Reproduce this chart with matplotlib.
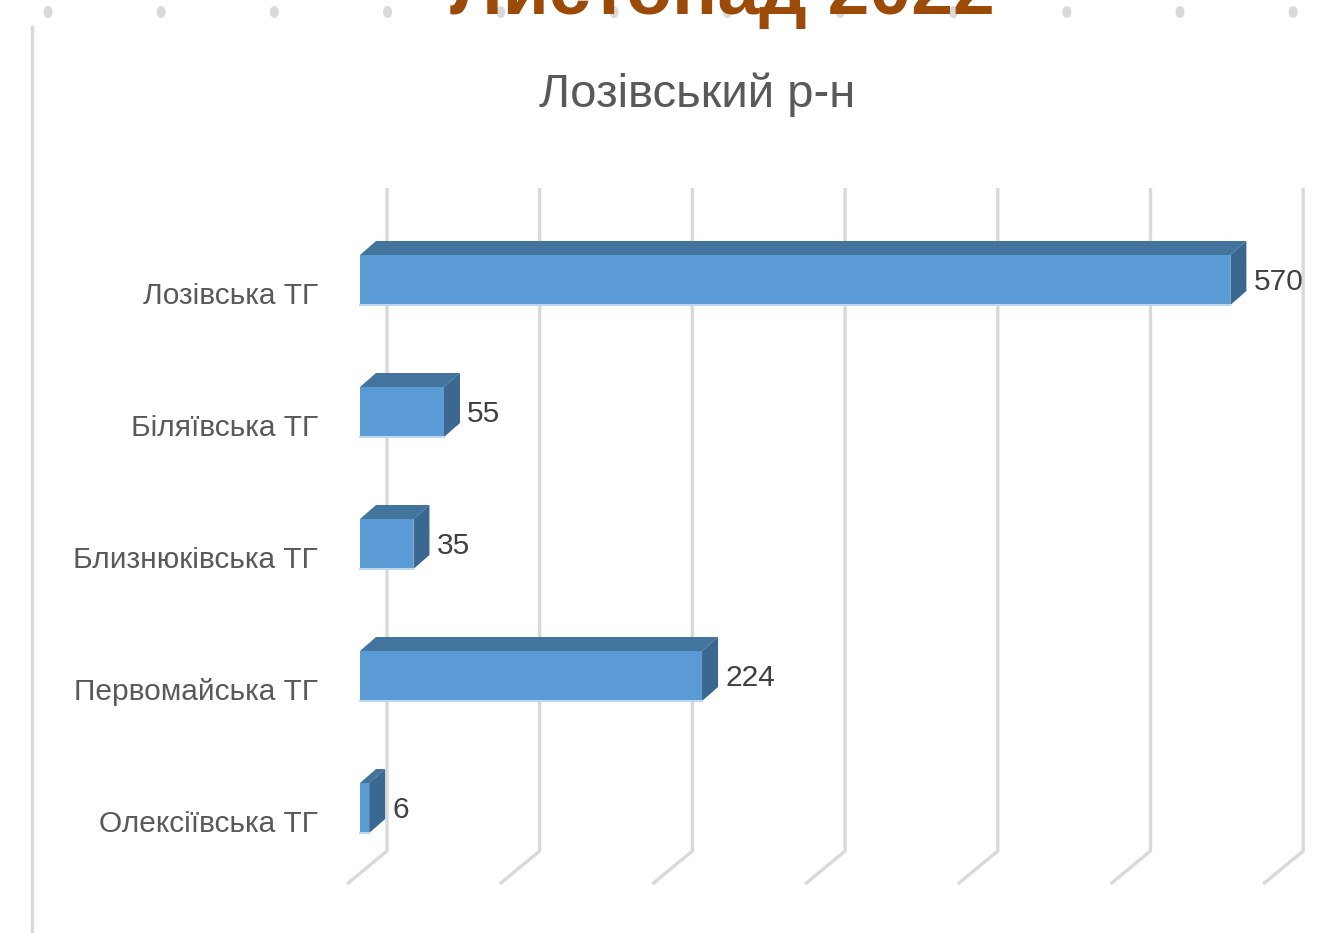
import matplotlib
matplotlib.use('Agg')
import matplotlib.pyplot as plt
from matplotlib.patches import Polygon, Rectangle, Ellipse
from matplotlib.lines import Line2D
import numpy as np

# ---- data ----
categories = ['Лозівська ТГ', 'Біляївська ТГ', 'Близнюківська ТГ', 'Первомайська ТГ', 'Олексіївська ТГ']
values = [570, 55, 35, 224, 6]
x_ticks = [0, 100, 200, 300, 400, 500, 600]
chart_title = 'Лозівський р-н'
page_title = 'Листопад 2022'

# ---- layout (pixels) ----
W, H, DPI = 1341, 933, 100
X0_PX = 360          # front plane value 0
KX = 1.527           # px per unit
ROW0_PX = 280        # center of first row (front plane)
ROW_PX = 132         # row spacing
BAR_H_PX = 50
DEPTH = (16, 14)     # bar depth offset (right, up)
BACK = (27, 22)      # back wall offset from bar front plane (right, up)
FLOOR = (-40, 33)    # floor slant from back wall (right, down)
GRID_TOP_PX = 188
GRID_BOT_PX = 851

FRONT = '#5B9BD5'
TOP = '#43749E'
SIDE = '#3A6890'
GRID = '#d9d9d9'
TXT = '#595959'

plt.rcParams['font.family'] = ['Liberation Sans', 'DejaVu Sans']

fig = plt.figure(figsize=(W / DPI, H / DPI), dpi=DPI)
ax = fig.add_axes([0, 0, 1, 1])
ax.set_axis_off()
ax.set_xlim(-X0_PX / KX, (W - X0_PX) / KX)
ax.set_ylim((H - ROW0_PX) / ROW_PX, -ROW0_PX / ROW_PX)


def dx(p):
    return p / KX


def dy(p):  # pixels downward -> data
    return p / ROW_PX


def ypx(p):  # absolute pixel row -> data
    return (p - ROW0_PX) / ROW_PX


# gridlines (back wall + floor slant)
bx = dx(BACK[0])
for v in x_ticks:
    xs = [v + bx, v + bx, v + bx + dx(FLOOR[0])]
    ys = [ypx(GRID_TOP_PX), ypx(GRID_BOT_PX), ypx(GRID_BOT_PX) + dy(FLOOR[1])]
    ax.add_line(Line2D(xs, ys, color=GRID, lw=2.4, solid_capstyle='butt', zorder=1))

# bars
h = dy(BAR_H_PX)
ddx, ddy = dx(DEPTH[0]), -dy(DEPTH[1])
for i, (c, v) in enumerate(zip(categories, values)):
    y0 = i - h / 2
    y1 = i + h / 2
    # top face
    ax.add_patch(Polygon([(0, y0), (v, y0), (v + ddx, y0 + ddy), (ddx, y0 + ddy)],
                         closed=True, facecolor=TOP, edgecolor='none', zorder=3))
    # side face
    ax.add_patch(Polygon([(v, y0), (v + ddx, y0 + ddy), (v + ddx, y1 + ddy), (v, y1)],
                         closed=True, facecolor=SIDE, edgecolor='none', zorder=3))
    # front face
    ax.add_patch(Rectangle((0, y0), v, h, facecolor=FRONT, edgecolor='none', zorder=4))
    ax.add_line(Line2D([0, v], [y1, y1], color='#BDD7EE', lw=1.5, zorder=5))
    # value label
    ax.text(v + ddx + dx(7), i + dy(2), f'{v}', ha='left', va='center',
            fontsize=21.5, color='#404040', zorder=6)
    # category label
    ax.text(dx(-42), i + dy(16), c, ha='right', va='center', fontsize=21.5,
            color=TXT, zorder=6)

# chart title
fig.text(697 / W, 1 - 95 / H, chart_title, ha='center', va='center', fontsize=34, color=TXT)

# decorative slide elements
for xd in np.arange(48, W, 113.2):
    fig.add_artist(Ellipse((xd / W, 1 - 12 / H), 9 / W, 12 / H, transform=fig.transFigure,
                           facecolor='#d9d9d9', edgecolor='none', zorder=1))
fig.add_artist(Line2D([32 / W, 32 / W], [1 - 27 / H, 0], transform=fig.transFigure,
                      color=GRID, lw=2.5))
fig.text(722 / W, 1 - 14 / H, page_title, ha='center', va='baseline', fontsize=54,
         fontweight='bold', color='#9C4A08', zorder=5)

fig.savefig('out.png', dpi=DPI, facecolor='white')
